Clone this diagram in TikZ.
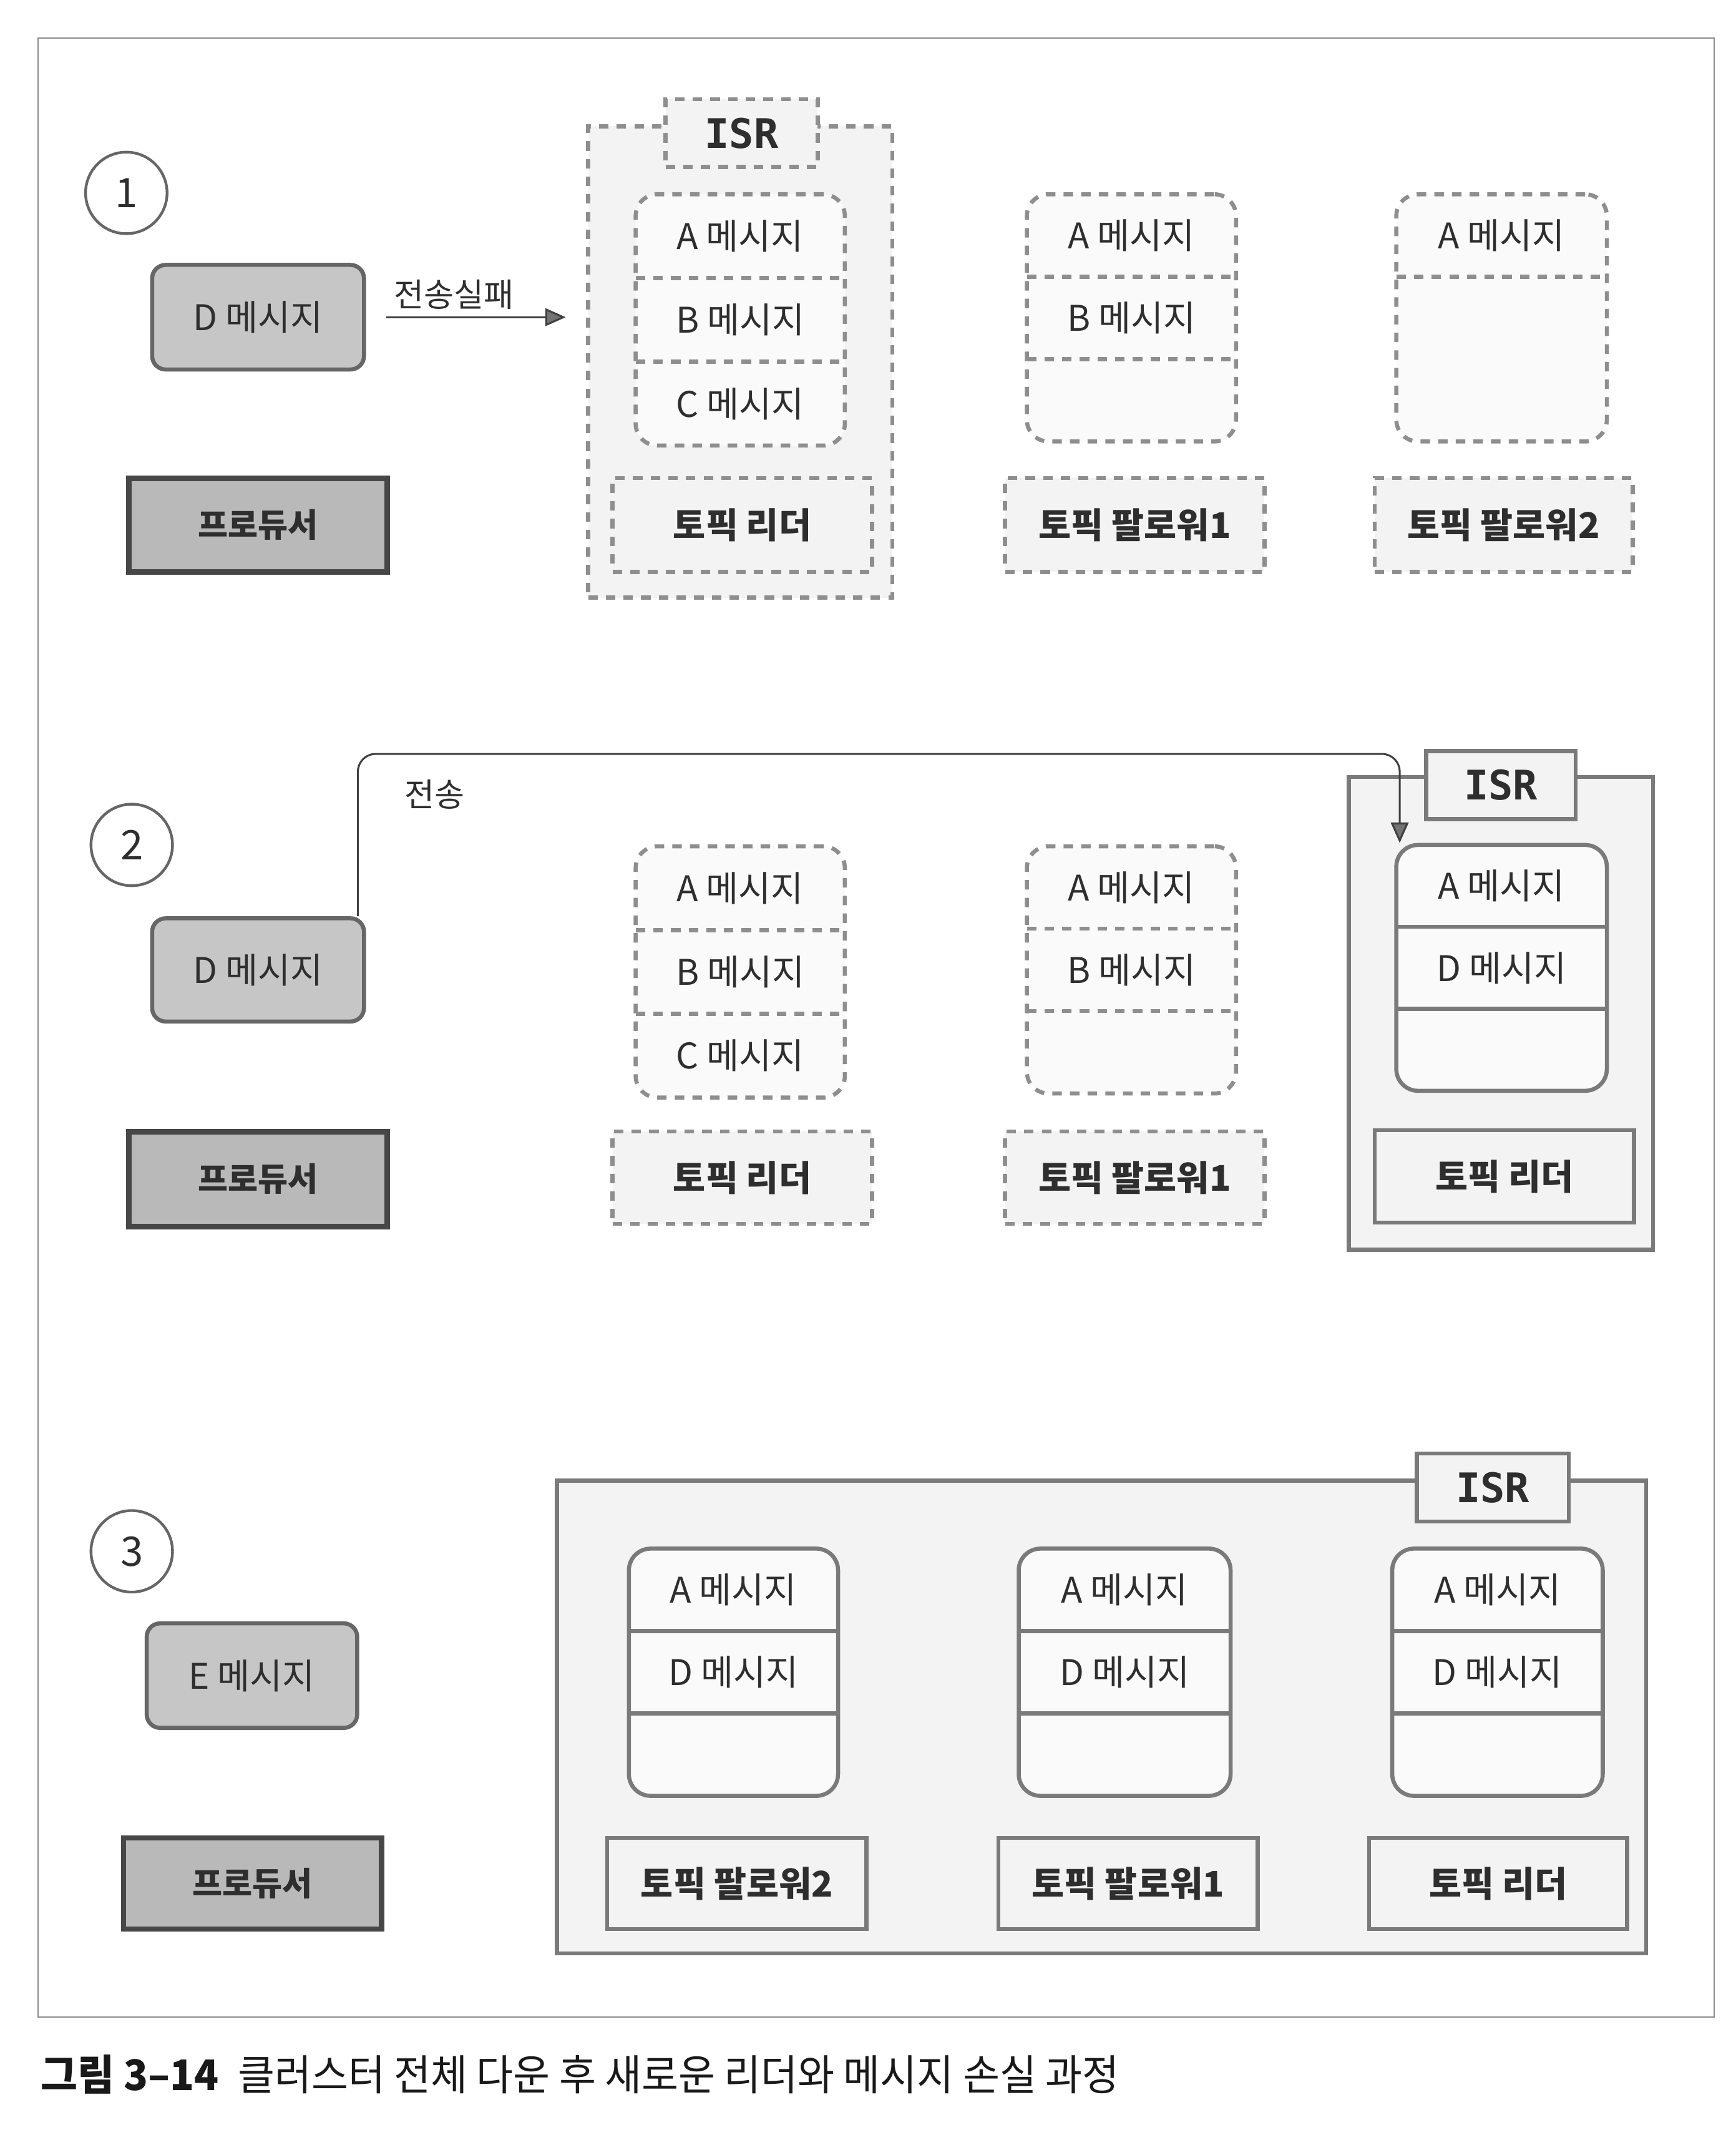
\documentclass[tikz,border=0pt]{standalone}
\usepackage{fontspec}
\setmainfont{Noto Sans CJK KR}
\newfontfamily\isrfont{DejaVu Sans Mono}
\newfontfamily\capfont[FakeStretch=0.95]{Noto Sans CJK KR}
\usetikzlibrary{arrows.meta,calc}

\definecolor{bordergray}{HTML}{7A7A7A}
\definecolor{dashgray}{HTML}{8E8E8E}
\definecolor{lightfill}{HTML}{F3F3F3}
\definecolor{stackfill}{HTML}{FAFAFA}
\definecolor{msgfill}{HTML}{C6C6C6}
\definecolor{prodfill}{HTML}{B9B9B9}
\definecolor{txt}{HTML}{2E2E2E}

\newcommand\bxnode[7]{%
  \node[#6, minimum width={(#4-#2)*1pt}, minimum height={(#5-#3)*1pt}, inner sep=0pt]
    (#1) at ({(#2+#4)/2},{(#3+#5)/2}) {#7};}

\newcommand\msgstack[9]{%
  \bxnode{#1}{#2}{#3}{#4}{#5}{#6}{}
  \pgfmathsetmacro\rowh{(#5-#3)/3}
  \node[msgtxt] (#1-1) at ({(#2+#4)/2},{#3+0.5*\rowh}) {#7};
  \node[msgtxt] (#1-2) at ({(#2+#4)/2},{#3+1.5*\rowh}) {#8};
  \node[msgtxt] (#1-3) at ({(#2+#4)/2},{#3+2.5*\rowh}) {#9};
  \draw[#6] (#2,{#3+\rowh}) -- (#4,{#3+\rowh});
  \if\relax\detokenize{#8}\relax\else\draw[#6] (#2,{#3+2*\rowh}) -- (#4,{#3+2*\rowh});\fi
}

\begin{document}
\begin{tikzpicture}[x=1pt,y=-1pt,
  frame/.style={draw=black!45, line width=1pt},
  msgtxt/.style={font=\fontsize{26}{30}\selectfont, text=txt},
  lbltxt/.style={font=\fontsize{26}{30}\selectfont\bfseries, text=txt},
  dstack/.style={draw=dashgray, line width=3pt, dash pattern=on 7pt off 6pt, rounded corners=16pt, fill=stackfill},
  sstack/.style={draw=bordergray, line width=3pt, rounded corners=16pt, fill=stackfill},
  dbox/.style={draw=dashgray, line width=3pt, dash pattern=on 7pt off 6pt, fill=lightfill, lbltxt},
  sbox/.style={draw=bordergray, line width=3pt, fill=lightfill, lbltxt},
  disr/.style={draw=dashgray, line width=3pt, dash pattern=on 7pt off 6pt, fill=lightfill},
  sisr/.style={draw=bordergray, line width=3pt, fill=lightfill},
  isrlab/.style={font=\isrfont\bfseries\fontsize{30}{32}\selectfont, text=txt},
  msgbox/.style={draw=black!60, line width=3pt, fill=msgfill, rounded corners=10pt, msgtxt},
  prodbox/.style={draw=black!72, line width=4pt, fill=prodfill, lbltxt, font=\fontsize{24}{28}\selectfont\bfseries},
  circ/.style={circle, draw=black!60, line width=2pt, minimum size=60pt, inner sep=0pt, text=txt, font=\fontsize{30}{32}\selectfont},
  conn/.style={draw=black!75, line width=1.4pt},
  tip/.style={-{Triangle[length=15pt,width=13pt,fill=black!55]}},
  clabel/.style={font=\fontsize{24}{28}\selectfont, text=txt}
]
\useasboundingbox (0,0) rectangle (1278,1568);
\fill[white] (0,0) rectangle (1278,1568);
\draw[frame] (28,28) rectangle (1262,1485);

% ---------- Section 1 ----------
\node[circ] (c1) at (93,142) {1};
\bxnode{dmsg1}{112}{195}{268}{272}{msgbox}{D 메시지}
\bxnode{prod1}{95}{352}{285}{421}{prodbox}{프로듀서}
\bxnode{isrbox1}{433}{93}{657}{440}{disr}{}
\bxnode{isrlab1}{490}{73}{602}{123}{disr,isrlab}{ISR}
\msgstack{stkA}{468}{143}{622}{328}{dstack}{A 메시지}{B 메시지}{C 메시지}
\bxnode{lead1}{451}{352}{642}{421}{dbox}{토픽 리더}
\msgstack{stkB}{756}{143}{910}{325}{dstack}{A 메시지}{B 메시지}{}
\bxnode{fol1a}{740}{352}{931}{421}{dbox}{토픽 팔로워1}
\msgstack{stkC}{1028}{143}{1183}{325}{dstack}{A 메시지}{}{}
\bxnode{fol1b}{1012}{352}{1202}{421}{dbox}{토픽 팔로워2}
\draw[conn, tip, shorten <=15pt, shorten >=15pt] (dmsg1.east) -- (isrbox1.west |- dmsg1.east)
  node[clabel, pos=0.4, above=2pt] (lab1) {전송실패};

% ---------- Section 2 ----------
\node[circ] (c2) at (97,622) {2};
\bxnode{dmsg2}{112}{676}{268}{752}{msgbox}{D 메시지}
\bxnode{prod2}{95}{833}{285}{903}{prodbox}{프로듀서}
\msgstack{stkD}{468}{623}{622}{808}{dstack}{A 메시지}{B 메시지}{C 메시지}
\bxnode{lead2}{451}{833}{642}{901}{dbox}{토픽 리더}
\msgstack{stkE}{756}{623}{910}{805}{dstack}{A 메시지}{B 메시지}{}
\bxnode{fol2a}{740}{833}{931}{901}{dbox}{토픽 팔로워1}
\bxnode{isrbox2}{993}{572}{1217}{920}{sisr}{}
\bxnode{isrlab2}{1050}{553}{1160}{603}{sisr,isrlab}{ISR}
\msgstack{stkF}{1028}{622}{1183}{803}{sstack}{A 메시지}{D 메시지}{}
\bxnode{lead2n}{1012}{832}{1203}{900}{sbox}{토픽 리더}
\coordinate (sendstart) at ($(dmsg2.north east)+(-6,0)$);
\coordinate (sendend) at ($(stkF.north west)+(4,0)$);
\draw[conn, tip, rounded corners=13pt] (sendstart) -- (sendstart |- 0,555) -- (sendend |- 0,555) -- (sendend);
\node[clabel] (lab2) at (320,585) {전송};

% ---------- Section 3 ----------
\node[circ] (c3) at (97,1142) {3};
\bxnode{emsg}{108}{1195}{263}{1272}{msgbox}{E 메시지}
\bxnode{prod3}{91}{1353}{281}{1420}{prodbox}{프로듀서}
\bxnode{isrbox3}{410}{1090}{1212}{1438}{sisr}{}
\bxnode{isrlab3}{1043}{1070}{1155}{1120}{sisr,isrlab}{ISR}
\msgstack{stkG}{463}{1140}{617}{1322}{sstack}{A 메시지}{D 메시지}{}
\msgstack{stkH}{750}{1140}{906}{1322}{sstack}{A 메시지}{D 메시지}{}
\msgstack{stkI}{1025}{1140}{1180}{1322}{sstack}{A 메시지}{D 메시지}{}
\bxnode{fol3b}{447}{1353}{638}{1420}{sbox}{토픽 팔로워2}
\bxnode{fol3a}{735}{1353}{926}{1420}{sbox}{토픽 팔로워1}
\bxnode{lead3}{1008}{1353}{1198}{1420}{sbox}{토픽 리더}

% ---------- Caption ----------
\node[anchor=west, inner sep=0pt, text=black!90, font=\capfont\fontsize{31}{34}\selectfont] (cap) at (30,1527)
  {\textbf{그림 3–14}\hspace{14pt}클러스터 전체 다운 후 새로운 리더와 메시지 손실 과정};
\end{tikzpicture}
\end{document}
